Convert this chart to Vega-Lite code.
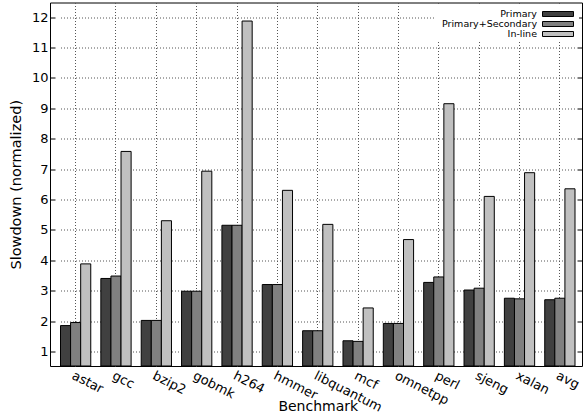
{
  "$schema": "https://vega.github.io/schema/vega-lite/v6.json",
  "width": 532,
  "height": 363.5,
  "autosize": "none",
  "padding": {"left": 50, "top": 2.5, "right": 1, "bottom": 54},
  "background": "white",
  "config": {
    "font": "DejaVu Sans",
    "view": {"stroke": "black", "strokeWidth": 1},
    "axis": {"labelColor": "black", "titleColor": "black", "titleFontWeight": "normal", "gridColor": "#555", "gridDash": [1, 2], "gridWidth": 1}
  },
  "data": {"values": [
    {"bench": "astar", "series": "Primary", "value": 1.85},
    {"bench": "astar", "series": "Primary+Secondary", "value": 1.95},
    {"bench": "astar", "series": "In-line", "value": 3.88},
    {"bench": "gcc", "series": "Primary", "value": 3.4},
    {"bench": "gcc", "series": "Primary+Secondary", "value": 3.48},
    {"bench": "gcc", "series": "In-line", "value": 7.58},
    {"bench": "bzip2", "series": "Primary", "value": 2.02},
    {"bench": "bzip2", "series": "Primary+Secondary", "value": 2.02},
    {"bench": "bzip2", "series": "In-line", "value": 5.3},
    {"bench": "gobmk", "series": "Primary", "value": 2.98},
    {"bench": "gobmk", "series": "Primary+Secondary", "value": 2.98},
    {"bench": "gobmk", "series": "In-line", "value": 6.93},
    {"bench": "h264", "series": "Primary", "value": 5.15},
    {"bench": "h264", "series": "Primary+Secondary", "value": 5.15},
    {"bench": "h264", "series": "In-line", "value": 11.87},
    {"bench": "hmmer", "series": "Primary", "value": 3.2},
    {"bench": "hmmer", "series": "Primary+Secondary", "value": 3.2},
    {"bench": "hmmer", "series": "In-line", "value": 6.3},
    {"bench": "libquantum", "series": "Primary", "value": 1.68},
    {"bench": "libquantum", "series": "Primary+Secondary", "value": 1.68},
    {"bench": "libquantum", "series": "In-line", "value": 5.18},
    {"bench": "mcf", "series": "Primary", "value": 1.35},
    {"bench": "mcf", "series": "Primary+Secondary", "value": 1.33},
    {"bench": "mcf", "series": "In-line", "value": 2.43},
    {"bench": "omnetpp", "series": "Primary", "value": 1.92},
    {"bench": "omnetpp", "series": "Primary+Secondary", "value": 1.92},
    {"bench": "omnetpp", "series": "In-line", "value": 4.68},
    {"bench": "perl", "series": "Primary", "value": 3.27},
    {"bench": "perl", "series": "Primary+Secondary", "value": 3.45},
    {"bench": "perl", "series": "In-line", "value": 9.15},
    {"bench": "sjeng", "series": "Primary", "value": 3.02},
    {"bench": "sjeng", "series": "Primary+Secondary", "value": 3.08},
    {"bench": "sjeng", "series": "In-line", "value": 6.1},
    {"bench": "xalan", "series": "Primary", "value": 2.75},
    {"bench": "xalan", "series": "Primary+Secondary", "value": 2.73},
    {"bench": "xalan", "series": "In-line", "value": 6.88},
    {"bench": "avg", "series": "Primary", "value": 2.7},
    {"bench": "avg", "series": "Primary+Secondary", "value": 2.75},
    {"bench": "avg", "series": "In-line", "value": 6.35}
  ]},
  "layer": [
    {
      "mark": {"type": "bar", "stroke": "black", "strokeWidth": 1, "clip": true},
      "encoding": {
        "x": {
          "field": "bench", "type": "nominal", "sort": null,
          "scale": {"range": [10.5, 525], "paddingInner": 0.25, "paddingOuter": 0},
          "axis": {"title": "Benchmark", "titleFontSize": 14, "titleY": 44, "titleBaseline": "alphabetic", "labelAngle": 27, "labelAlign": "left", "labelBaseline": "top", "labelFontSize": 13, "labelPadding": 3, "ticks": false, "domain": false, "grid": true, "bandPosition": 0.5}
        },
        "xOffset": {
          "field": "series", "type": "nominal",
          "sort": ["Primary", "Primary+Secondary", "In-line"],
          "scale": {"domain": ["Primary", "Primary+Secondary", "In-line"], "paddingInner": 0, "paddingOuter": 0}
        },
        "y": {
          "field": "value", "type": "quantitative",
          "scale": {"domain": [0.52, 12.48], "nice": false, "zero": false},
          "axis": {"title": "Slowdown (normalized)", "titleFontSize": 14.5, "values": [1, 2, 3, 4, 5, 6, 7, 8, 9, 10, 11, 12], "labelFontSize": 13, "tickSize": -5, "tickColor": "black", "labelPadding": 7, "domain": false, "grid": true, "titlePadding": 8}
        },
        "y2": {"datum": 0.52},
        "color": {
          "field": "series", "type": "nominal",
          "scale": {"domain": ["Primary", "Primary+Secondary", "In-line"], "range": ["#404040", "#808080", "#c0c0c0"]},
          "legend": {"orient": "top-right", "title": null, "symbolType": "M-3.1,-0.5H3.1V0.5H-3.1Z", "symbolSize": 100, "symbolStrokeColor": "black", "symbolStrokeWidth": 1, "symbolOpacity": 1, "labelAlign": "right", "labelOffset": -26.5, "symbolOffset": 115.5, "labelFontSize": 9.5, "labelColor": "black", "fillColor": "white", "padding": 3, "offset": 3, "rowPadding": -1}
        }
      }
    },
    {
      "mark": {"type": "tick", "opacity": 0},
      "encoding": {
        "y": {"field": "value", "type": "quantitative", "axis": {"orient": "right", "title": null, "labels": false, "values": [1, 2, 3, 4, 5, 6, 7, 8, 9, 10, 11, 12], "tickSize": -5, "tickColor": "black", "domain": false, "grid": false}}
      }
    }
  ],
  "resolve": {"axis": {"y": "independent"}}
}
